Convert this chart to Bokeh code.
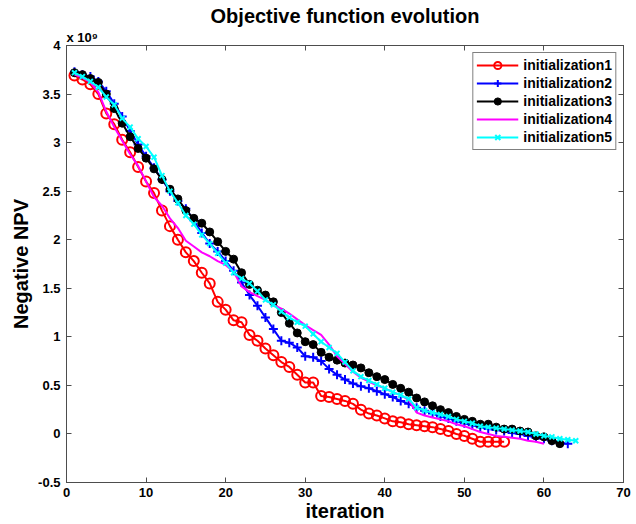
from bokeh.plotting import figure
from bokeh.models import Range1d, FixedTicker, LinearAxis, Title, Legend, LegendItem
from bokeh.embed import file_html
from bokeh.resources import INLINE

# Data (NPV in units of 1e9, negative NPV)
iter1 = list(range(1, 56))
npv1 = [3.69, 3.65, 3.60, 3.50, 3.30, 3.19, 3.03, 2.90, 2.75, 2.60,
        2.48, 2.30, 2.14, 2.00, 1.87, 1.78, 1.66, 1.55, 1.36, 1.28,
        1.17, 1.15, 1.02, 0.96, 0.88, 0.81, 0.74, 0.69, 0.61, 0.53,
        0.53, 0.39, 0.38, 0.36, 0.34, 0.31, 0.25, 0.21, 0.19, 0.16,
        0.13, 0.12, 0.10, 0.09, 0.08, 0.07, 0.05, 0.03, 0.00, -0.02,
        -0.05, -0.08, -0.08, -0.08, -0.08]

iter2 = list(range(1, 64))
npv2 = [3.73, 3.70, 3.68, 3.63, 3.53, 3.40, 3.27, 3.12, 2.98, 2.86,
        2.74, 2.62, 2.50, 2.40, 2.32, 2.20, 2.07, 1.96, 1.88, 1.78,
        1.68, 1.56, 1.43, 1.32, 1.20, 1.08, 0.96, 0.94, 0.89, 0.80,
        0.79, 0.75, 0.67, 0.61, 0.56, 0.52, 0.49, 0.47, 0.44, 0.41,
        0.38, 0.34, 0.31, 0.27, 0.24, 0.21, 0.18, 0.16, 0.13, 0.11,
        0.09, 0.07, 0.05, 0.04, 0.03, 0.01, 0.00, -0.02, -0.04, -0.05,
        -0.07, -0.09, -0.10]

iter3 = list(range(1, 63))
npv3 = [3.72, 3.70, 3.66, 3.62, 3.50, 3.35, 3.20, 3.06, 2.94, 2.84,
        2.73, 2.62, 2.52, 2.42, 2.30, 2.22, 2.17, 2.08, 1.98, 1.88,
        1.80, 1.66, 1.54, 1.48, 1.43, 1.36, 1.25, 1.14, 1.04, 0.95,
        0.92, 0.84, 0.79, 0.76, 0.73, 0.71, 0.68, 0.63, 0.59, 0.56,
        0.51, 0.47, 0.43, 0.37, 0.33, 0.29, 0.25, 0.22, 0.18, 0.15,
        0.13, 0.10, 0.10, 0.07, 0.05, 0.05, 0.03, 0.02, -0.02, -0.03,
        -0.07, -0.10]

iter4 = list(range(1, 61))
npv4 = [3.70, 3.67, 3.62, 3.52, 3.32, 3.16, 3.02, 2.88, 2.76, 2.60,
        2.44, 2.35, 2.22, 2.12, 1.99, 1.93, 1.87, 1.83, 1.78, 1.74,
        1.67, 1.52, 1.46, 1.42, 1.38, 1.33, 1.29, 1.24, 1.18, 1.12,
        1.07, 1.02, 0.92, 0.80, 0.72, 0.64, 0.58, 0.54, 0.50, 0.47,
        0.43, 0.40, 0.35, 0.22, 0.19, 0.17, 0.15, 0.13, 0.10, 0.08,
        0.05, 0.02, 0.00, -0.02, -0.03, -0.04, -0.05, -0.07, -0.08, -0.10]

iter5 = list(range(1, 65))
npv5 = [3.72, 3.68, 3.63, 3.57, 3.47, 3.39, 3.25, 3.16, 3.04, 2.96,
        2.85, 2.66, 2.50, 2.38, 2.25, 2.16, 2.05, 1.96, 1.86, 1.76,
        1.66, 1.60, 1.55, 1.47, 1.38, 1.33, 1.26, 1.20, 1.15, 1.11,
        1.03, 0.95, 0.89, 0.83, 0.74, 0.65, 0.59, 0.55, 0.51, 0.47,
        0.43, 0.40, 0.36, 0.27, 0.24, 0.22, 0.20, 0.18, 0.15, 0.13,
        0.11, 0.08, 0.07, 0.06, 0.05, 0.04, 0.03, 0.02, 0.00, -0.02,
        -0.03, -0.05, -0.06, -0.07]

x_ticks = [0, 10, 20, 30, 40, 50, 60, 70]
y_ticks = [-0.5, 0, 0.5, 1, 1.5, 2, 2.5, 3, 3.5, 4]
y_tick_labels = ["-0.5", "0", "0.5", "1", "1.5", "2", "2.5", "3", "3.5", "4"]
series_labels = ["initialization1", "initialization2", "initialization3",
                 "initialization4", "initialization5"]
multiplier_text = "x 10\u2079"

FONT = "Liberation Sans"
AX_COLOR = "#4d4d4d"

p = figure(width=636, height=524, output_backend="svg", toolbar_location=None,
           x_range=Range1d(0, 70), y_range=Range1d(-0.5, 4),
           title="Objective function evolution",
           min_border_left=66, min_border_right=13, min_border_top=45, min_border_bottom=0)
p.background_fill_color = "white"
p.border_fill_color = "white"
p.outline_line_color = AX_COLOR
p.outline_line_width = 1
p.xgrid.visible = False
p.ygrid.visible = False

p.title.align = "center"
p.title.text_font = FONT
p.title.text_font_size = "20px"
p.title.text_font_style = "bold"
p.title.text_color = "black"
p.title.offset = 0
p.title.standoff = 0

def style_axis(ax, ticks, labels=True):
    ax.ticker = FixedTicker(ticks=ticks)
    ax.major_tick_in = 5
    ax.major_tick_out = 0
    ax.minor_tick_line_color = None
    ax.axis_line_color = AX_COLOR
    ax.major_tick_line_color = AX_COLOR
    ax.major_label_text_font = FONT
    ax.major_label_text_font_style = "bold"
    if labels:
        ax.major_label_text_color = "black"
        ax.major_label_text_font_size = "13px"
    else:
        ax.major_label_text_color = None
        ax.major_label_text_font_size = "1px"
        ax.major_label_standoff = 0

style_axis(p.xaxis[0], x_ticks)
style_axis(p.yaxis[0], y_ticks)
p.yaxis[0].major_label_overrides = {t: s for t, s in zip(y_ticks, y_tick_labels)}
p.xaxis[0].major_label_standoff = 5
p.yaxis[0].major_label_standoff = 6

p.xaxis[0].axis_label = "iteration"
p.yaxis[0].axis_label = "Negative NPV"
for ax in (p.xaxis[0], p.yaxis[0]):
    ax.axis_label_text_font = FONT
    ax.axis_label_text_font_size = "20px"
    ax.axis_label_text_font_style = "bold"
    ax.axis_label_text_color = "black"
    ax.axis_label_standoff = 0
p.yaxis[0].axis_label_standoff = 3

top_ax = LinearAxis()
right_ax = LinearAxis()
style_axis(top_ax, x_ticks, labels=False)
style_axis(right_ax, y_ticks, labels=False)
p.add_layout(top_ax, "above")
p.add_layout(right_ax, "right")

mult = Title(text=multiplier_text, align="left", text_font=FONT, text_font_size="13px",
             text_font_style="bold", text_color="black", offset=0, standoff=2)
p.add_layout(mult, "above")

colors = ["#ff0000", "#0000ff", "#000000", "#ff00ff", "#00ffff"]
data = [(iter1, npv1), (iter2, npv2), (iter3, npv3), (iter4, npv4), (iter5, npv5)]
items = []
for i, ((xs, ys), c, lab) in enumerate(zip(data, colors, series_labels)):
    r_line = p.line(xs, ys, line_color=c, line_width=2)
    rends = [r_line]
    if i == 0:
        rends.append(p.scatter(xs, ys, marker="circle", size=10, fill_color=None,
                               line_color=c, line_width=2))
    elif i == 1:
        rends.append(p.scatter(xs, ys, marker="cross", size=9, line_color=c, line_width=2))
    elif i == 2:
        rends.append(p.scatter(xs, ys, marker="circle", size=8, fill_color=c, line_color=c))
    elif i == 4:
        rends.append(p.scatter(xs, ys, marker="x", size=7, line_color=c, line_width=2))
    items.append(LegendItem(label=lab, renderers=rends))

legend = Legend(items=items, location="top_right")
legend.label_text_font = FONT
legend.label_text_font_size = "14px"
legend.label_text_font_style = "bold"
legend.label_text_color = "black"
legend.label_height = 18
legend.glyph_height = 18
legend.glyph_width = 42
legend.label_standoff = 5
legend.spacing = 0
legend.padding = 3
legend.margin = 7
legend.border_line_color = "black"
legend.border_line_width = 1
legend.background_fill_color = "white"
legend.background_fill_alpha = 1
p.add_layout(legend)

open("out.html", "w").write(file_html(p, INLINE))
